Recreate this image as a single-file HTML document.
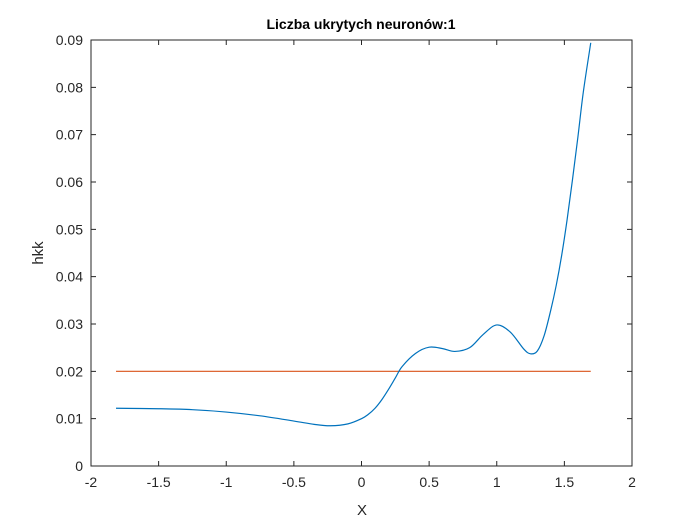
<!DOCTYPE html>
<html><head><meta charset="utf-8"><style>
body{margin:0;background:#fff}
svg{display:block;font-family:"Liberation Sans",sans-serif}
</style></head><body>
<svg id="c" width="700" height="525">
<rect x="0" y="0" width="700" height="525" fill="#fff"/>
<text x="361" y="29" text-anchor="middle" font-size="14" font-weight="bold" fill="#000">Liczba ukrytych neuronów:1</text>
<text x="362" y="515" text-anchor="middle" font-size="15" fill="#262626">X</text>
<text transform="translate(43,253) rotate(-90)" text-anchor="middle" font-size="15" fill="#262626">hkk</text>
<g id="g"></g>
</svg>
<script>
const xTicks=[-2,-1.5,-1,-0.5,0,0.5,1,1.5,2];
const xTickLabels=["-2","-1.5","-1","-0.5","0","0.5","1","1.5","2"];
const yTicks=[0,0.01,0.02,0.03,0.04,0.05,0.06,0.07,0.08,0.09];
const yTickLabels=["0","0.01","0.02","0.03","0.04","0.05","0.06","0.07","0.08","0.09"];
const blueX=[-1.815,-1.5,-1.25,-1.0,-0.75,-0.5,-0.35,-0.23,-0.1,0,0.05,0.1,0.15,0.2,0.25,0.3,0.4,0.5,0.6,0.69,0.8,0.9,1.0,1.1,1.2,1.25,1.3,1.35,1.4,1.44,1.48,1.52,1.56,1.6,1.64,1.695];
const blueY=[0.0122,0.0121,0.0119,0.0114,0.0106,0.0095,0.0088,0.0085,0.0089,0.0100,0.0109,0.0122,0.0140,0.0162,0.0186,0.0210,0.0238,0.0251,0.0248,0.0242,0.0250,0.0278,0.0298,0.0283,0.0247,0.0237,0.0243,0.0275,0.0330,0.0382,0.0445,0.0520,0.0605,0.0695,0.0790,0.0894];
const redX=[-1.815,1.695];
const redY=[0.02,0.02];
const L=91,R=632,T=40,B=466;
const sx=v=>L+(v+2)/4*(R-L);
const sy=v=>B-v/0.09*(B-T);
const NS="http://www.w3.org/2000/svg";
const g=document.getElementById('g');
function mk(t,a){const e=document.createElementNS(NS,t);for(const k in a)e.setAttribute(k,a[k]);g.appendChild(e);return e;}
const box=mk('rect',{x:L,y:T,width:R-L,height:B-T,fill:'none',stroke:'#262626','stroke-width':1});


xTicks.forEach((v,i)=>{
 const x=sx(v);
 const t=mk('path',{d:`M${x},${B}v-5M${x},${T}v5`,stroke:'#262626'});
 
 
 const l=mk('text',{x:x,y:B+21,'text-anchor':'middle','font-size':14,fill:'#262626'});
 l.textContent=xTickLabels[i];
 
 
});
yTicks.forEach((v,i)=>{
 const y=sy(v);
 const t=mk('path',{d:`M${L},${y}h5M${R},${y}h-5`,stroke:'#262626'});
 
 
 const l=mk('text',{x:L-8,y:y+5,'text-anchor':'end','font-size':14,fill:'#262626'});
 l.textContent=yTickLabels[i];
 
 
});
function smooth(xs,ys){
 const p=xs.map((x,i)=>[sx(x),sy(ys[i])]);
 let d=`M${p[0][0]},${p[0][1]}`;
 for(let i=0;i<p.length-1;i++){
  const p0=p[Math.max(0,i-1)],p1=p[i],p2=p[i+1],p3=p[Math.min(p.length-1,i+2)];
  const c1=[p1[0]+(p2[0]-p0[0])/6,p1[1]+(p2[1]-p0[1])/6];
  const c2=[p2[0]-(p3[0]-p1[0])/6,p2[1]-(p3[1]-p1[1])/6];
  d+=`C${c1[0]},${c1[1]} ${c2[0]},${c2[1]} ${p2[0]},${p2[1]}`;
 }
 return d;
}
const red=mk('path',{d:smooth(redX,redY),fill:'none',stroke:'#d95319','stroke-width':1.2});


const blue=mk('path',{d:smooth(blueX,blueY),fill:'none',stroke:'#0072bd','stroke-width':1.2});


</script>
</body></html>
